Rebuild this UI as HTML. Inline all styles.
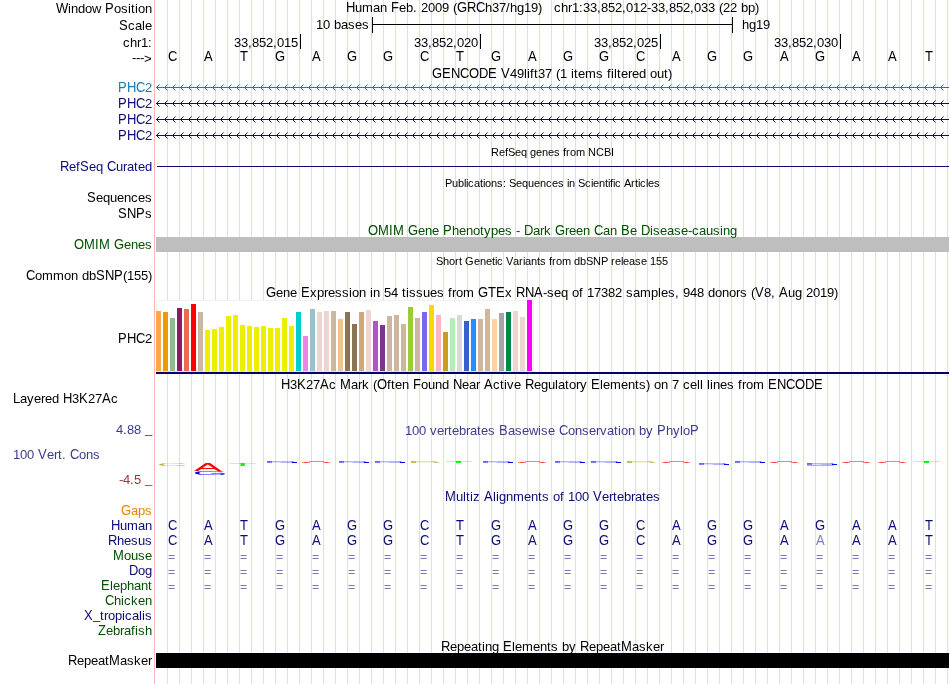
<!DOCTYPE html>
<html lang="en">
<head>
<meta charset="utf-8">
<title>UCSC Genome Browser - hg19 chr1:33,852,012-33,852,033</title>
<style>
html,body{margin:0;padding:0;background:#fff;overflow:hidden}
body{width:950px;height:684px;font-family:"Liberation Sans", Arial, Helvetica, sans-serif}
svg{display:block;position:absolute;left:0;top:0}
svg text{font-family:"Liberation Sans", Arial, Helvetica, sans-serif;white-space:pre}
svg tspan.c{font-size:14px}
</style>
</head>
<body>
<svg width="950" height="684" viewBox="0 0 950 684" shape-rendering="crispEdges">
<defs>
<pattern id="barb0" x="156" y="84" width="8" height="16" patternUnits="userSpaceOnUse"><g fill="#1f77b4"><rect x="1" y="2" width="1" height="1" opacity="1"/><rect x="1" y="4" width="1" height="1" opacity="1"/><rect x="2" y="1" width="1" height="1" opacity="1"/><rect x="2" y="5" width="1" height="1" opacity="1"/><rect x="3" y="0" width="1" height="1" opacity="0.5"/><rect x="3" y="6" width="1" height="1" opacity="0.5"/></g></pattern>
<pattern id="barb1" x="156" y="100" width="8" height="16" patternUnits="userSpaceOnUse"><g fill="#0c0c78"><rect x="1" y="2" width="1" height="1" opacity="1"/><rect x="1" y="4" width="1" height="1" opacity="1"/><rect x="2" y="1" width="1" height="1" opacity="1"/><rect x="2" y="5" width="1" height="1" opacity="1"/><rect x="3" y="0" width="1" height="1" opacity="0.5"/><rect x="3" y="6" width="1" height="1" opacity="0.5"/></g></pattern>
</defs>
<g id="graphics">
<rect x="167" y="0" width="1" height="684" fill="#dcdcff"/>
<rect x="179" y="0" width="1" height="684" fill="#dcdcff"/>
<rect x="191" y="0" width="1" height="684" fill="#dcdcff"/>
<rect x="203" y="0" width="1" height="684" fill="#dcdcff"/>
<rect x="215" y="0" width="1" height="684" fill="#dcdcff"/>
<rect x="227" y="0" width="1" height="684" fill="#dcdcff"/>
<rect x="239" y="0" width="1" height="684" fill="#dcdcff"/>
<rect x="251" y="0" width="1" height="684" fill="#dcdcff"/>
<rect x="263" y="0" width="1" height="684" fill="#dcdcff"/>
<rect x="275" y="0" width="1" height="684" fill="#dcdcff"/>
<rect x="287" y="0" width="1" height="684" fill="#dcdcff"/>
<rect x="299" y="0" width="1" height="684" fill="#dcdcff"/>
<rect x="311" y="0" width="1" height="684" fill="#dcdcff"/>
<rect x="323" y="0" width="1" height="684" fill="#dcdcff"/>
<rect x="335" y="0" width="1" height="684" fill="#dcdcff"/>
<rect x="347" y="0" width="1" height="684" fill="#dcdcff"/>
<rect x="359" y="0" width="1" height="684" fill="#dcdcff"/>
<rect x="371" y="0" width="1" height="684" fill="#dcdcff"/>
<rect x="383" y="0" width="1" height="684" fill="#dcdcff"/>
<rect x="395" y="0" width="1" height="684" fill="#dcdcff"/>
<rect x="407" y="0" width="1" height="684" fill="#dcdcff"/>
<rect x="419" y="0" width="1" height="684" fill="#dcdcff"/>
<rect x="431" y="0" width="1" height="684" fill="#dcdcff"/>
<rect x="443" y="0" width="1" height="684" fill="#dcdcff"/>
<rect x="455" y="0" width="1" height="684" fill="#dcdcff"/>
<rect x="467" y="0" width="1" height="684" fill="#dcdcff"/>
<rect x="479" y="0" width="1" height="684" fill="#dcdcff"/>
<rect x="491" y="0" width="1" height="684" fill="#dcdcff"/>
<rect x="503" y="0" width="1" height="684" fill="#dcdcff"/>
<rect x="515" y="0" width="1" height="684" fill="#dcdcff"/>
<rect x="527" y="0" width="1" height="684" fill="#dcdcff"/>
<rect x="539" y="0" width="1" height="684" fill="#dcdcff"/>
<rect x="551" y="0" width="1" height="684" fill="#dcdcff"/>
<rect x="563" y="0" width="1" height="684" fill="#dcdcff"/>
<rect x="575" y="0" width="1" height="684" fill="#dcdcff"/>
<rect x="587" y="0" width="1" height="684" fill="#dcdcff"/>
<rect x="599" y="0" width="1" height="684" fill="#dcdcff"/>
<rect x="611" y="0" width="1" height="684" fill="#dcdcff"/>
<rect x="623" y="0" width="1" height="684" fill="#dcdcff"/>
<rect x="635" y="0" width="1" height="684" fill="#dcdcff"/>
<rect x="647" y="0" width="1" height="684" fill="#dcdcff"/>
<rect x="659" y="0" width="1" height="684" fill="#dcdcff"/>
<rect x="671" y="0" width="1" height="684" fill="#dcdcff"/>
<rect x="683" y="0" width="1" height="684" fill="#dcdcff"/>
<rect x="695" y="0" width="1" height="684" fill="#dcdcff"/>
<rect x="707" y="0" width="1" height="684" fill="#dcdcff"/>
<rect x="719" y="0" width="1" height="684" fill="#dcdcff"/>
<rect x="731" y="0" width="1" height="684" fill="#dcdcff"/>
<rect x="743" y="0" width="1" height="684" fill="#dcdcff"/>
<rect x="755" y="0" width="1" height="684" fill="#dcdcff"/>
<rect x="767" y="0" width="1" height="684" fill="#dcdcff"/>
<rect x="779" y="0" width="1" height="684" fill="#dcdcff"/>
<rect x="791" y="0" width="1" height="684" fill="#dcdcff"/>
<rect x="803" y="0" width="1" height="684" fill="#dcdcff"/>
<rect x="815" y="0" width="1" height="684" fill="#dcdcff"/>
<rect x="827" y="0" width="1" height="684" fill="#dcdcff"/>
<rect x="839" y="0" width="1" height="684" fill="#dcdcff"/>
<rect x="851" y="0" width="1" height="684" fill="#dcdcff"/>
<rect x="863" y="0" width="1" height="684" fill="#dcdcff"/>
<rect x="875" y="0" width="1" height="684" fill="#dcdcff"/>
<rect x="887" y="0" width="1" height="684" fill="#dcdcff"/>
<rect x="899" y="0" width="1" height="684" fill="#dcdcff"/>
<rect x="911" y="0" width="1" height="684" fill="#dcdcff"/>
<rect x="923" y="0" width="1" height="684" fill="#dcdcff"/>
<rect x="935" y="0" width="1" height="684" fill="#dcdcff"/>
<rect x="947" y="0" width="1" height="684" fill="#dcdcff"/>
<rect x="154" y="0" width="1" height="684" fill="#ffb4b4"/>
<rect x="372" y="17" width="1" height="16" fill="#000"/>
<rect x="732" y="17" width="1" height="16" fill="#000"/>
<rect x="372" y="24" width="361" height="1" fill="#000"/>
<rect x="300" y="34" width="1" height="15" fill="#000"/>
<rect x="480" y="34" width="1" height="15" fill="#000"/>
<rect x="660" y="34" width="1" height="15" fill="#000"/>
<rect x="840" y="34" width="1" height="15" fill="#000"/>
<rect x="156" y="87" width="793" height="1" fill="#1f77b4"/>
<rect x="156" y="84" width="792" height="7" fill="url(#barb0)"/>
<rect x="156" y="103" width="793" height="1" fill="#0c0c78"/>
<rect x="156" y="100" width="792" height="7" fill="url(#barb1)"/>
<rect x="156" y="119" width="793" height="1" fill="#0c0c78"/>
<rect x="156" y="116" width="792" height="7" fill="url(#barb1)"/>
<rect x="156" y="135" width="793" height="1" fill="#0c0c78"/>
<rect x="156" y="132" width="792" height="7" fill="url(#barb1)"/>
<rect x="157" y="166" width="792" height="1" fill="#0c0c78"/>
<rect x="156" y="237" width="793" height="15" fill="#bebebe"/>
<rect x="156" y="300" width="378" height="72" fill="#f1f1f1"/>
<rect x="157" y="301" width="376" height="70" fill="#fff"/>
<rect x="156" y="371" width="378" height="1" fill="#e3e3df"/>
<rect x="156" y="311" width="5" height="60" fill="#FFA54F"/>
<rect x="163" y="312" width="5" height="59" fill="#EE9A00"/>
<rect x="170" y="318" width="5" height="53" fill="#8FBC8F"/>
<rect x="177" y="308" width="5" height="63" fill="#8B1C62"/>
<rect x="184" y="309" width="5" height="62" fill="#EE6A50"/>
<rect x="191" y="304" width="5" height="67" fill="#FF0000"/>
<rect x="198" y="312" width="5" height="59" fill="#CDB79E"/>
<rect x="205" y="330" width="5" height="41" fill="#EEEE00"/>
<rect x="212" y="329" width="5" height="42" fill="#EEEE00"/>
<rect x="219" y="327" width="5" height="44" fill="#EEEE00"/>
<rect x="226" y="316" width="5" height="55" fill="#EEEE00"/>
<rect x="233" y="315" width="5" height="56" fill="#EEEE00"/>
<rect x="240" y="325" width="5" height="46" fill="#EEEE00"/>
<rect x="247" y="326" width="5" height="45" fill="#EEEE00"/>
<rect x="254" y="327" width="5" height="44" fill="#EEEE00"/>
<rect x="261" y="326" width="5" height="45" fill="#EEEE00"/>
<rect x="268" y="328" width="5" height="43" fill="#EEEE00"/>
<rect x="275" y="328" width="5" height="43" fill="#EEEE00"/>
<rect x="282" y="318" width="5" height="53" fill="#EEEE00"/>
<rect x="289" y="326" width="5" height="45" fill="#EEEE00"/>
<rect x="296" y="312" width="5" height="59" fill="#00CDCD"/>
<rect x="303" y="336" width="5" height="35" fill="#EE82EE"/>
<rect x="310" y="309" width="5" height="62" fill="#9AC0CD"/>
<rect x="317" y="312" width="5" height="59" fill="#EED5D2"/>
<rect x="324" y="311" width="5" height="60" fill="#EED5D2"/>
<rect x="331" y="311" width="5" height="60" fill="#CDB79E"/>
<rect x="338" y="319" width="5" height="52" fill="#EEC591"/>
<rect x="345" y="312" width="5" height="59" fill="#8B7355"/>
<rect x="352" y="324" width="5" height="47" fill="#8B7355"/>
<rect x="359" y="312" width="5" height="59" fill="#CDAA7D"/>
<rect x="366" y="310" width="5" height="61" fill="#EED5D2"/>
<rect x="373" y="321" width="5" height="50" fill="#B452CD"/>
<rect x="380" y="325" width="5" height="46" fill="#7A378B"/>
<rect x="387" y="316" width="5" height="55" fill="#CDB79E"/>
<rect x="394" y="315" width="5" height="56" fill="#CDB79E"/>
<rect x="401" y="324" width="5" height="47" fill="#CDB79E"/>
<rect x="408" y="307" width="5" height="64" fill="#9ACD32"/>
<rect x="415" y="318" width="5" height="53" fill="#CDB79E"/>
<rect x="422" y="312" width="5" height="59" fill="#7A67EE"/>
<rect x="429" y="305" width="5" height="66" fill="#FFD700"/>
<rect x="436" y="315" width="5" height="56" fill="#FFB6C1"/>
<rect x="443" y="332" width="5" height="39" fill="#CD9B1D"/>
<rect x="450" y="318" width="5" height="53" fill="#B4EEB4"/>
<rect x="457" y="315" width="5" height="56" fill="#D9D9D9"/>
<rect x="464" y="321" width="5" height="50" fill="#3A5FCD"/>
<rect x="471" y="319" width="5" height="52" fill="#1E90FF"/>
<rect x="478" y="319" width="5" height="52" fill="#CDB79E"/>
<rect x="485" y="309" width="5" height="62" fill="#CDB79E"/>
<rect x="492" y="319" width="5" height="52" fill="#FFD39B"/>
<rect x="499" y="313" width="5" height="58" fill="#A6A6A6"/>
<rect x="506" y="312" width="5" height="59" fill="#008B45"/>
<rect x="513" y="311" width="5" height="60" fill="#EED5D2"/>
<rect x="520" y="317" width="5" height="54" fill="#EED5D2"/>
<rect x="527" y="300" width="5" height="71" fill="#FF00FF"/>
<rect x="156" y="372" width="793" height="2" fill="#00006e"/>
<rect x="156" y="653" width="793" height="15" fill="#000"/>
</g>
<g id="logo-px">
<rect x="267" y="461" width="26" height="1" fill="#0000ff" opacity="0.28"/>
<rect x="267" y="462" width="26" height="1" fill="#0000ff" opacity="0.12"/>
<rect x="267" y="461" width="5" height="2" fill="#0000ff" opacity="0.45"/>
<rect x="281" y="462" width="11" height="1" fill="#0000ff" opacity="0.2"/>
<rect x="291" y="461" width="3" height="1" fill="#0000ff" opacity="0.25"/>
<rect x="292" y="462" width="5" height="1" fill="#0000ff" opacity="1"/>
<rect x="309" y="461" width="15" height="1" fill="#ff0000" opacity="0.5"/>
<rect x="302" y="462" width="8" height="1" fill="#ff0000" opacity="0.45"/>
<rect x="323" y="462" width="7" height="1" fill="#ff0000" opacity="0.45"/>
<rect x="304" y="462" width="4" height="1" fill="#ff0000" opacity="0.5"/>
<rect x="325" y="462" width="3" height="1" fill="#ff0000" opacity="0.5"/>
<rect x="339" y="461" width="26" height="1" fill="#0000ff" opacity="0.28"/>
<rect x="339" y="462" width="26" height="1" fill="#0000ff" opacity="0.12"/>
<rect x="339" y="461" width="5" height="2" fill="#0000ff" opacity="0.45"/>
<rect x="353" y="462" width="11" height="1" fill="#0000ff" opacity="0.2"/>
<rect x="363" y="461" width="3" height="1" fill="#0000ff" opacity="0.25"/>
<rect x="364" y="462" width="5" height="1" fill="#0000ff" opacity="1"/>
<rect x="375" y="461" width="26" height="1" fill="#0000ff" opacity="0.28"/>
<rect x="375" y="462" width="26" height="1" fill="#0000ff" opacity="0.12"/>
<rect x="375" y="461" width="5" height="2" fill="#0000ff" opacity="0.45"/>
<rect x="389" y="462" width="11" height="1" fill="#0000ff" opacity="0.2"/>
<rect x="399" y="461" width="3" height="1" fill="#0000ff" opacity="0.25"/>
<rect x="400" y="462" width="5" height="1" fill="#0000ff" opacity="1"/>
<rect x="411" y="461" width="25" height="1" fill="#b4aa32" opacity="0.3"/>
<rect x="411" y="462" width="25" height="1" fill="#b4aa32" opacity="0.2"/>
<rect x="411" y="461" width="5" height="2" fill="#b4aa32" opacity="0.7"/>
<rect x="432" y="461" width="5" height="1" fill="#b4aa32" opacity="0.35"/>
<rect x="434" y="462" width="5" height="1" fill="#b4aa32" opacity="0.6"/>
<rect x="446" y="461" width="26" height="1" fill="#00ff00" opacity="0.3"/>
<rect x="456" y="461" width="5" height="2" fill="#00ff00" opacity="1"/>
<rect x="483" y="461" width="26" height="1" fill="#0000ff" opacity="0.28"/>
<rect x="483" y="462" width="26" height="1" fill="#0000ff" opacity="0.12"/>
<rect x="483" y="461" width="5" height="2" fill="#0000ff" opacity="0.45"/>
<rect x="497" y="462" width="11" height="1" fill="#0000ff" opacity="0.2"/>
<rect x="507" y="461" width="3" height="1" fill="#0000ff" opacity="0.25"/>
<rect x="508" y="462" width="5" height="1" fill="#0000ff" opacity="1"/>
<rect x="525" y="461" width="15" height="1" fill="#ff0000" opacity="0.5"/>
<rect x="518" y="462" width="8" height="1" fill="#ff0000" opacity="0.45"/>
<rect x="539" y="462" width="7" height="1" fill="#ff0000" opacity="0.45"/>
<rect x="520" y="462" width="4" height="1" fill="#ff0000" opacity="0.5"/>
<rect x="541" y="462" width="3" height="1" fill="#ff0000" opacity="0.5"/>
<rect x="555" y="461" width="26" height="1" fill="#0000ff" opacity="0.28"/>
<rect x="555" y="462" width="26" height="1" fill="#0000ff" opacity="0.12"/>
<rect x="555" y="461" width="5" height="2" fill="#0000ff" opacity="0.45"/>
<rect x="569" y="462" width="11" height="1" fill="#0000ff" opacity="0.2"/>
<rect x="579" y="461" width="3" height="1" fill="#0000ff" opacity="0.25"/>
<rect x="580" y="462" width="5" height="1" fill="#0000ff" opacity="1"/>
<rect x="591" y="461" width="26" height="1" fill="#0000ff" opacity="0.28"/>
<rect x="591" y="462" width="26" height="1" fill="#0000ff" opacity="0.12"/>
<rect x="591" y="461" width="5" height="2" fill="#0000ff" opacity="0.45"/>
<rect x="605" y="462" width="11" height="1" fill="#0000ff" opacity="0.2"/>
<rect x="615" y="461" width="3" height="1" fill="#0000ff" opacity="0.25"/>
<rect x="616" y="462" width="5" height="1" fill="#0000ff" opacity="1"/>
<rect x="627" y="461" width="25" height="1" fill="#b4aa32" opacity="0.3"/>
<rect x="627" y="462" width="25" height="1" fill="#b4aa32" opacity="0.2"/>
<rect x="627" y="461" width="5" height="2" fill="#b4aa32" opacity="0.7"/>
<rect x="648" y="461" width="5" height="1" fill="#b4aa32" opacity="0.35"/>
<rect x="650" y="462" width="5" height="1" fill="#b4aa32" opacity="0.6"/>
<rect x="669" y="461" width="15" height="1" fill="#ff0000" opacity="0.5"/>
<rect x="662" y="462" width="8" height="1" fill="#ff0000" opacity="0.45"/>
<rect x="683" y="462" width="7" height="1" fill="#ff0000" opacity="0.45"/>
<rect x="664" y="462" width="4" height="1" fill="#ff0000" opacity="0.5"/>
<rect x="685" y="462" width="3" height="1" fill="#ff0000" opacity="0.5"/>
<rect x="699" y="463" width="26" height="1" fill="#0000ff" opacity="0.28"/>
<rect x="699" y="464" width="26" height="1" fill="#0000ff" opacity="0.12"/>
<rect x="699" y="463" width="5" height="2" fill="#0000ff" opacity="0.45"/>
<rect x="713" y="464" width="11" height="1" fill="#0000ff" opacity="0.2"/>
<rect x="723" y="463" width="3" height="1" fill="#0000ff" opacity="0.25"/>
<rect x="724" y="464" width="5" height="1" fill="#0000ff" opacity="1"/>
<rect x="735" y="461" width="26" height="1" fill="#0000ff" opacity="0.28"/>
<rect x="735" y="462" width="26" height="1" fill="#0000ff" opacity="0.12"/>
<rect x="735" y="461" width="5" height="2" fill="#0000ff" opacity="0.45"/>
<rect x="749" y="462" width="11" height="1" fill="#0000ff" opacity="0.2"/>
<rect x="759" y="461" width="3" height="1" fill="#0000ff" opacity="0.25"/>
<rect x="760" y="462" width="5" height="1" fill="#0000ff" opacity="1"/>
<rect x="777" y="461" width="15" height="1" fill="#ff0000" opacity="0.5"/>
<rect x="770" y="462" width="8" height="1" fill="#ff0000" opacity="0.45"/>
<rect x="791" y="462" width="7" height="1" fill="#ff0000" opacity="0.45"/>
<rect x="772" y="462" width="4" height="1" fill="#ff0000" opacity="0.5"/>
<rect x="793" y="462" width="3" height="1" fill="#ff0000" opacity="0.5"/>
<rect x="807" y="463" width="26" height="1" fill="#0000ff" opacity="0.28"/>
<rect x="807" y="464" width="26" height="1" fill="#0000ff" opacity="0.12"/>
<rect x="807" y="463" width="5" height="2" fill="#0000ff" opacity="0.45"/>
<rect x="821" y="464" width="11" height="1" fill="#0000ff" opacity="0.2"/>
<rect x="831" y="463" width="3" height="1" fill="#0000ff" opacity="0.25"/>
<rect x="832" y="464" width="5" height="1" fill="#0000ff" opacity="1"/>
<rect x="849" y="461" width="15" height="1" fill="#ff0000" opacity="0.5"/>
<rect x="842" y="462" width="8" height="1" fill="#ff0000" opacity="0.45"/>
<rect x="863" y="462" width="7" height="1" fill="#ff0000" opacity="0.45"/>
<rect x="844" y="462" width="4" height="1" fill="#ff0000" opacity="0.5"/>
<rect x="865" y="462" width="3" height="1" fill="#ff0000" opacity="0.5"/>
<rect x="885" y="461" width="15" height="1" fill="#ff0000" opacity="0.5"/>
<rect x="878" y="462" width="8" height="1" fill="#ff0000" opacity="0.45"/>
<rect x="899" y="462" width="7" height="1" fill="#ff0000" opacity="0.45"/>
<rect x="880" y="462" width="4" height="1" fill="#ff0000" opacity="0.5"/>
<rect x="901" y="462" width="3" height="1" fill="#ff0000" opacity="0.5"/>
<rect x="914" y="461" width="26" height="1" fill="#00ff00" opacity="0.3"/>
<rect x="924" y="461" width="5" height="2" fill="#00ff00" opacity="1"/>
<rect x="807" y="465" width="26" height="1" fill="#ff0000" opacity="0.4"/>
</g>
<g id="logos" font-size="100">
<text transform="matrix(0.4279 0 0 0.0438 157.03 466.06)" fill="#b4aa32">C</text>
<text transform="matrix(0.4132 0 0 0.1177 194.02 471.00)" fill="#ff0000">A</text>
<text transform="matrix(0.4581 0 0 0.0407 228.67 465.80)" fill="#00ff00">T</text>
<text transform="matrix(0.4580 0 0 0.0593 192.60 474.84)" fill="#0000ff">G</text>
</g>
<g class="labels" font-size="13" fill="#000">
<text x="56 68 71 78 85 92 101 105 114 121 128 131 135 138 145" y="13"><tspan class="c" textLength="12.27" lengthAdjust="spacingAndGlyphs">W</tspan>indow <tspan class="c" textLength="8.67" lengthAdjust="spacingAndGlyphs">P</tspan>osition</text>
<text x="346 355 362 373 380 387 391 399 406 413 417 421 428 435 442 449 453 457 467 476 485 492 499 506 510 517 524 531 538 542 546 550 554 561 568 572 579 583 590 597 601 608 615 622 626 633 640 647 651 658 665 669 676 683 690 694 701 708 715 719 723 730 737 741 748 755" y="12"><tspan class="c" textLength="9.39" lengthAdjust="spacingAndGlyphs">H</tspan>uman <tspan class="c" textLength="7.94" lengthAdjust="spacingAndGlyphs">F</tspan>eb. 2009 (<tspan class="c" textLength="10.11" lengthAdjust="spacingAndGlyphs">G</tspan><tspan class="c" textLength="9.39" lengthAdjust="spacingAndGlyphs">R</tspan><tspan class="c" textLength="9.39" lengthAdjust="spacingAndGlyphs">C</tspan>h37/hg19)   chr1:33,852,012-33,852,033 (22 bp)</text>
<text x="119 128 135 142 145" y="30"><tspan class="c" textLength="8.67" lengthAdjust="spacingAndGlyphs">S</tspan>cale</text>
<text x="316 323 330 334 341 348 355 362" y="29">10 bases</text>
<text x="742 749 756 763" y="29">hg19</text>
<text x="123 130 137 141 148" y="47">chr1:</text>
<text x="234 241 248 252 259 266 273 277 284 291" y="47">33,852,015</text>
<text x="414 421 428 432 439 446 453 457 464 471" y="47">33,852,020</text>
<text x="594 601 608 612 619 626 633 637 644 651" y="47">33,852,025</text>
<text x="774 781 788 792 799 806 813 817 824 831" y="47">33,852,030</text>
<text x="132 136 140 144" y="62" dy="0 0 0 1">---&gt;</text>
<text x="168" y="61"><tspan class="c" textLength="9.39" lengthAdjust="spacingAndGlyphs">C</tspan></text>
<text x="204" y="61"><tspan class="c" textLength="8.67" lengthAdjust="spacingAndGlyphs">A</tspan></text>
<text x="240" y="61"><tspan class="c" textLength="7.94" lengthAdjust="spacingAndGlyphs">T</tspan></text>
<text x="275" y="61"><tspan class="c" textLength="10.11" lengthAdjust="spacingAndGlyphs">G</tspan></text>
<text x="312" y="61"><tspan class="c" textLength="8.67" lengthAdjust="spacingAndGlyphs">A</tspan></text>
<text x="347" y="61"><tspan class="c" textLength="10.11" lengthAdjust="spacingAndGlyphs">G</tspan></text>
<text x="383" y="61"><tspan class="c" textLength="10.11" lengthAdjust="spacingAndGlyphs">G</tspan></text>
<text x="420" y="61"><tspan class="c" textLength="9.39" lengthAdjust="spacingAndGlyphs">C</tspan></text>
<text x="456" y="61"><tspan class="c" textLength="7.94" lengthAdjust="spacingAndGlyphs">T</tspan></text>
<text x="491" y="61"><tspan class="c" textLength="10.11" lengthAdjust="spacingAndGlyphs">G</tspan></text>
<text x="528" y="61"><tspan class="c" textLength="8.67" lengthAdjust="spacingAndGlyphs">A</tspan></text>
<text x="563" y="61"><tspan class="c" textLength="10.11" lengthAdjust="spacingAndGlyphs">G</tspan></text>
<text x="599" y="61"><tspan class="c" textLength="10.11" lengthAdjust="spacingAndGlyphs">G</tspan></text>
<text x="636" y="61"><tspan class="c" textLength="9.39" lengthAdjust="spacingAndGlyphs">C</tspan></text>
<text x="672" y="61"><tspan class="c" textLength="8.67" lengthAdjust="spacingAndGlyphs">A</tspan></text>
<text x="707" y="61"><tspan class="c" textLength="10.11" lengthAdjust="spacingAndGlyphs">G</tspan></text>
<text x="743" y="61"><tspan class="c" textLength="10.11" lengthAdjust="spacingAndGlyphs">G</tspan></text>
<text x="780" y="61"><tspan class="c" textLength="8.67" lengthAdjust="spacingAndGlyphs">A</tspan></text>
<text x="815" y="61"><tspan class="c" textLength="10.11" lengthAdjust="spacingAndGlyphs">G</tspan></text>
<text x="852" y="61"><tspan class="c" textLength="8.67" lengthAdjust="spacingAndGlyphs">A</tspan></text>
<text x="888" y="61"><tspan class="c" textLength="8.67" lengthAdjust="spacingAndGlyphs">A</tspan></text>
<text x="925" y="61"><tspan class="c" textLength="7.94" lengthAdjust="spacingAndGlyphs">T</tspan></text>
<text x="432 442 451 460 469 479 488 497 501 510 517 524 527 530 534 538 545 552 556 560 567 571 574 578 585 596 603 607 611 614 617 621 628 632 639 646 650 657 664 668" y="78"><tspan class="c" textLength="10.11" lengthAdjust="spacingAndGlyphs">G</tspan><tspan class="c" textLength="8.67" lengthAdjust="spacingAndGlyphs">E</tspan><tspan class="c" textLength="9.39" lengthAdjust="spacingAndGlyphs">N</tspan><tspan class="c" textLength="9.39" lengthAdjust="spacingAndGlyphs">C</tspan><tspan class="c" textLength="10.11" lengthAdjust="spacingAndGlyphs">O</tspan><tspan class="c" textLength="9.39" lengthAdjust="spacingAndGlyphs">D</tspan><tspan class="c" textLength="8.67" lengthAdjust="spacingAndGlyphs">E</tspan> <tspan class="c" textLength="8.67" lengthAdjust="spacingAndGlyphs">V</tspan>49lift37 (1 items filtered out)</text>
<text x="118 127 136 145" y="92" fill="#1f77b4"><tspan class="c" textLength="8.67" lengthAdjust="spacingAndGlyphs">P</tspan><tspan class="c" textLength="9.39" lengthAdjust="spacingAndGlyphs">H</tspan><tspan class="c" textLength="9.39" lengthAdjust="spacingAndGlyphs">C</tspan>2</text>
<text x="118 127 136 145" y="108" fill="#0c0c78"><tspan class="c" textLength="8.67" lengthAdjust="spacingAndGlyphs">P</tspan><tspan class="c" textLength="9.39" lengthAdjust="spacingAndGlyphs">H</tspan><tspan class="c" textLength="9.39" lengthAdjust="spacingAndGlyphs">C</tspan>2</text>
<text x="118 127 136 145" y="124" fill="#0c0c78"><tspan class="c" textLength="8.67" lengthAdjust="spacingAndGlyphs">P</tspan><tspan class="c" textLength="9.39" lengthAdjust="spacingAndGlyphs">H</tspan><tspan class="c" textLength="9.39" lengthAdjust="spacingAndGlyphs">C</tspan>2</text>
<text x="118 127 136 145" y="140" fill="#0c0c78"><tspan class="c" textLength="8.67" lengthAdjust="spacingAndGlyphs">P</tspan><tspan class="c" textLength="9.39" lengthAdjust="spacingAndGlyphs">H</tspan><tspan class="c" textLength="9.39" lengthAdjust="spacingAndGlyphs">C</tspan>2</text>
<text x="491 499 505 508 515 521 527 530 536 542 548 554 560 563 566 570 576 585 588 596 604 611" y="156" font-size="11">RefSeq genes from NCBI</text>
<text x="60 69 76 80 89 96 103 107 116 123 127 134 138 145" y="171" fill="#0c0c78"><tspan class="c" textLength="9.39" lengthAdjust="spacingAndGlyphs">R</tspan>ef<tspan class="c" textLength="8.67" lengthAdjust="spacingAndGlyphs">S</tspan>eq <tspan class="c" textLength="9.39" lengthAdjust="spacingAndGlyphs">C</tspan>urated</text>
<text x="445 452 458 464 466 468 474 480 483 485 491 497 503 506 509 516 522 528 534 540 546 552 558 564 567 569 575 578 585 591 593 599 605 608 610 613 615 621 624 631 635 638 640 646 648 654" y="187" font-size="11">Publications: Sequences in Scientific Articles</text>
<text x="87 96 103 110 117 124 131 138 145" y="202"><tspan class="c" textLength="8.67" lengthAdjust="spacingAndGlyphs">S</tspan>equences</text>
<text x="118 127 136 145" y="218"><tspan class="c" textLength="8.67" lengthAdjust="spacingAndGlyphs">S</tspan><tspan class="c" textLength="9.39" lengthAdjust="spacingAndGlyphs">N</tspan><tspan class="c" textLength="8.67" lengthAdjust="spacingAndGlyphs">P</tspan>s</text>
<text x="368 378 389 393 404 408 418 425 432 439 443 452 459 466 473 480 484 491 498 505 512 516 520 524 533 540 544 551 555 565 569 576 583 590 594 603 610 617 621 630 637 641 650 653 660 667 674 681 688 692 699 706 713 720 723 730" y="235" fill="#005000"><tspan class="c" textLength="10.11" lengthAdjust="spacingAndGlyphs">O</tspan><tspan class="c" textLength="10.83" lengthAdjust="spacingAndGlyphs">M</tspan><tspan class="c" textLength="3.61" lengthAdjust="spacingAndGlyphs">I</tspan><tspan class="c" textLength="10.83" lengthAdjust="spacingAndGlyphs">M</tspan> <tspan class="c" textLength="10.11" lengthAdjust="spacingAndGlyphs">G</tspan>ene <tspan class="c" textLength="8.67" lengthAdjust="spacingAndGlyphs">P</tspan>henotypes - <tspan class="c" textLength="9.39" lengthAdjust="spacingAndGlyphs">D</tspan>ark <tspan class="c" textLength="10.11" lengthAdjust="spacingAndGlyphs">G</tspan>reen <tspan class="c" textLength="9.39" lengthAdjust="spacingAndGlyphs">C</tspan>an <tspan class="c" textLength="8.67" lengthAdjust="spacingAndGlyphs">B</tspan>e <tspan class="c" textLength="9.39" lengthAdjust="spacingAndGlyphs">D</tspan>isease-causing</text>
<text x="74 84 95 99 110 114 124 131 138 145" y="249" fill="#005000"><tspan class="c" textLength="10.11" lengthAdjust="spacingAndGlyphs">O</tspan><tspan class="c" textLength="10.83" lengthAdjust="spacingAndGlyphs">M</tspan><tspan class="c" textLength="3.61" lengthAdjust="spacingAndGlyphs">I</tspan><tspan class="c" textLength="10.83" lengthAdjust="spacingAndGlyphs">M</tspan> <tspan class="c" textLength="10.11" lengthAdjust="spacingAndGlyphs">G</tspan>enes</text>
<text x="436 443 449 455 459 462 465 474 480 486 492 495 497 503 506 513 519 523 525 531 537 540 546 549 552 556 562 571 574 580 586 593 601 608 611 615 621 623 629 635 641 647 650 656 662" y="265" font-size="11">Short Genetic Variants from dbSNP release 155</text>
<text x="26 35 42 53 64 71 78 82 89 96 105 114 123 127 134 141 148" y="280"><tspan class="c" textLength="9.39" lengthAdjust="spacingAndGlyphs">C</tspan>ommon db<tspan class="c" textLength="8.67" lengthAdjust="spacingAndGlyphs">S</tspan><tspan class="c" textLength="9.39" lengthAdjust="spacingAndGlyphs">N</tspan><tspan class="c" textLength="8.67" lengthAdjust="spacingAndGlyphs">P</tspan>(155)</text>
<text x="266 276 283 290 297 301 310 317 324 328 335 342 349 352 359 366 370 373 380 384 391 398 402 406 409 416 423 430 437 444 448 452 456 463 474 478 488 496 505 512 516 525 534 543 547 554 561 568 572 579 583 587 594 601 608 615 622 626 633 640 651 658 661 668 675 679 683 690 697 704 708 715 722 729 736 740 747 751 755 764 771 775 779 788 795 802 806 813 820 827 834" y="297"><tspan class="c" textLength="10.11" lengthAdjust="spacingAndGlyphs">G</tspan>ene <tspan class="c" textLength="8.67" lengthAdjust="spacingAndGlyphs">E</tspan>xpression in 54 tissues from <tspan class="c" textLength="10.11" lengthAdjust="spacingAndGlyphs">G</tspan><tspan class="c" textLength="7.94" lengthAdjust="spacingAndGlyphs">T</tspan><tspan class="c" textLength="8.67" lengthAdjust="spacingAndGlyphs">E</tspan>x <tspan class="c" textLength="9.39" lengthAdjust="spacingAndGlyphs">R</tspan><tspan class="c" textLength="9.39" lengthAdjust="spacingAndGlyphs">N</tspan><tspan class="c" textLength="8.67" lengthAdjust="spacingAndGlyphs">A</tspan>-seq of 17382 samples, 948 donors (<tspan class="c" textLength="8.67" lengthAdjust="spacingAndGlyphs">V</tspan>8, <tspan class="c" textLength="8.67" lengthAdjust="spacingAndGlyphs">A</tspan>ug 2019)</text>
<text x="118 127 136 145" y="343"><tspan class="c" textLength="8.67" lengthAdjust="spacingAndGlyphs">P</tspan><tspan class="c" textLength="9.39" lengthAdjust="spacingAndGlyphs">H</tspan><tspan class="c" textLength="9.39" lengthAdjust="spacingAndGlyphs">C</tspan>2</text>
<text x="281 290 297 306 313 320 329 336 340 351 358 362 369 373 377 387 391 395 402 409 413 421 428 435 442 449 453 462 469 476 480 484 493 500 504 507 514 521 525 534 541 548 555 558 565 569 576 580 587 591 600 603 610 621 628 635 639 646 650 654 661 668 672 679 683 690 697 700 703 707 710 713 720 727 734 738 742 746 753 764 768 777 786 795 805 814" y="389"><tspan class="c" textLength="9.39" lengthAdjust="spacingAndGlyphs">H</tspan>3<tspan class="c" textLength="8.67" lengthAdjust="spacingAndGlyphs">K</tspan>27<tspan class="c" textLength="8.67" lengthAdjust="spacingAndGlyphs">A</tspan>c <tspan class="c" textLength="10.83" lengthAdjust="spacingAndGlyphs">M</tspan>ark (<tspan class="c" textLength="10.11" lengthAdjust="spacingAndGlyphs">O</tspan>ften <tspan class="c" textLength="7.94" lengthAdjust="spacingAndGlyphs">F</tspan>ound <tspan class="c" textLength="9.39" lengthAdjust="spacingAndGlyphs">N</tspan>ear <tspan class="c" textLength="8.67" lengthAdjust="spacingAndGlyphs">A</tspan>ctive <tspan class="c" textLength="9.39" lengthAdjust="spacingAndGlyphs">R</tspan>egulatory <tspan class="c" textLength="8.67" lengthAdjust="spacingAndGlyphs">E</tspan>lements) on 7 cell lines from <tspan class="c" textLength="8.67" lengthAdjust="spacingAndGlyphs">E</tspan><tspan class="c" textLength="9.39" lengthAdjust="spacingAndGlyphs">N</tspan><tspan class="c" textLength="9.39" lengthAdjust="spacingAndGlyphs">C</tspan><tspan class="c" textLength="10.11" lengthAdjust="spacingAndGlyphs">O</tspan><tspan class="c" textLength="9.39" lengthAdjust="spacingAndGlyphs">D</tspan><tspan class="c" textLength="8.67" lengthAdjust="spacingAndGlyphs">E</tspan></text>
<text x="13 20 27 34 41 45 52 59 63 72 79 88 95 102 111" y="403"><tspan class="c" textLength="7.23" lengthAdjust="spacingAndGlyphs">L</tspan>ayered <tspan class="c" textLength="9.39" lengthAdjust="spacingAndGlyphs">H</tspan>3<tspan class="c" textLength="8.67" lengthAdjust="spacingAndGlyphs">K</tspan>27<tspan class="c" textLength="8.67" lengthAdjust="spacingAndGlyphs">A</tspan>c</text>
<text x="405 412 419 426 430 437 444 448 452 459 466 470 477 481 488 495 499 508 515 522 529 538 541 548 555 559 568 575 582 589 596 600 607 614 618 621 628 635 639 646 653 657 666 673 680 683 690" y="435" fill="#3c3c8c">100 vertebrates <tspan class="c" textLength="8.67" lengthAdjust="spacingAndGlyphs">B</tspan>asewise <tspan class="c" textLength="9.39" lengthAdjust="spacingAndGlyphs">C</tspan>onservation by <tspan class="c" textLength="8.67" lengthAdjust="spacingAndGlyphs">P</tspan>hylo<tspan class="c" textLength="8.67" lengthAdjust="spacingAndGlyphs">P</tspan></text>
<text x="116 123 127 134 141 145" y="434" dy="0 0 0 0 0 -1" fill="#3c3c8c">4.88 _</text>
<text x="13 20 27 34 38 47 54 58 62 66 70 79 86 93" y="459" fill="#3c3c8c">100 <tspan class="c" textLength="8.67" lengthAdjust="spacingAndGlyphs">V</tspan>ert. <tspan class="c" textLength="9.39" lengthAdjust="spacingAndGlyphs">C</tspan>ons</text>
<text x="119 123 130 134 141 145" y="484" dy="0 0 0 0 0 -1" fill="#8c3c3c">-4.5 _</text>
<text x="445 456 463 466 470 473 480 484 493 496 499 506 513 524 531 538 542 549 553 560 564 568 575 582 589 593 602 609 613 617 624 631 635 642 646 653" y="501" fill="#0c0c78"><tspan class="c" textLength="10.83" lengthAdjust="spacingAndGlyphs">M</tspan>ultiz <tspan class="c" textLength="8.67" lengthAdjust="spacingAndGlyphs">A</tspan>lignments of 100 <tspan class="c" textLength="8.67" lengthAdjust="spacingAndGlyphs">V</tspan>ertebrates</text>
<text x="121 131 138 145" y="515" fill="#e88500"><tspan class="c" textLength="10.11" lengthAdjust="spacingAndGlyphs">G</tspan>aps</text>
<text x="111 120 127 138 145" y="530" fill="#0c0c78"><tspan class="c" textLength="9.39" lengthAdjust="spacingAndGlyphs">H</tspan>uman</text>
<text x="168" y="530" fill="#0c0c78"><tspan class="c" textLength="9.39" lengthAdjust="spacingAndGlyphs">C</tspan></text>
<text x="204" y="530" fill="#0c0c78"><tspan class="c" textLength="8.67" lengthAdjust="spacingAndGlyphs">A</tspan></text>
<text x="240" y="530" fill="#0c0c78"><tspan class="c" textLength="7.94" lengthAdjust="spacingAndGlyphs">T</tspan></text>
<text x="275" y="530" fill="#0c0c78"><tspan class="c" textLength="10.11" lengthAdjust="spacingAndGlyphs">G</tspan></text>
<text x="312" y="530" fill="#0c0c78"><tspan class="c" textLength="8.67" lengthAdjust="spacingAndGlyphs">A</tspan></text>
<text x="347" y="530" fill="#0c0c78"><tspan class="c" textLength="10.11" lengthAdjust="spacingAndGlyphs">G</tspan></text>
<text x="383" y="530" fill="#0c0c78"><tspan class="c" textLength="10.11" lengthAdjust="spacingAndGlyphs">G</tspan></text>
<text x="420" y="530" fill="#0c0c78"><tspan class="c" textLength="9.39" lengthAdjust="spacingAndGlyphs">C</tspan></text>
<text x="456" y="530" fill="#0c0c78"><tspan class="c" textLength="7.94" lengthAdjust="spacingAndGlyphs">T</tspan></text>
<text x="491" y="530" fill="#0c0c78"><tspan class="c" textLength="10.11" lengthAdjust="spacingAndGlyphs">G</tspan></text>
<text x="528" y="530" fill="#0c0c78"><tspan class="c" textLength="8.67" lengthAdjust="spacingAndGlyphs">A</tspan></text>
<text x="563" y="530" fill="#0c0c78"><tspan class="c" textLength="10.11" lengthAdjust="spacingAndGlyphs">G</tspan></text>
<text x="599" y="530" fill="#0c0c78"><tspan class="c" textLength="10.11" lengthAdjust="spacingAndGlyphs">G</tspan></text>
<text x="636" y="530" fill="#0c0c78"><tspan class="c" textLength="9.39" lengthAdjust="spacingAndGlyphs">C</tspan></text>
<text x="672" y="530" fill="#0c0c78"><tspan class="c" textLength="8.67" lengthAdjust="spacingAndGlyphs">A</tspan></text>
<text x="707" y="530" fill="#0c0c78"><tspan class="c" textLength="10.11" lengthAdjust="spacingAndGlyphs">G</tspan></text>
<text x="743" y="530" fill="#0c0c78"><tspan class="c" textLength="10.11" lengthAdjust="spacingAndGlyphs">G</tspan></text>
<text x="780" y="530" fill="#0c0c78"><tspan class="c" textLength="8.67" lengthAdjust="spacingAndGlyphs">A</tspan></text>
<text x="815" y="530" fill="#0c0c78"><tspan class="c" textLength="10.11" lengthAdjust="spacingAndGlyphs">G</tspan></text>
<text x="852" y="530" fill="#0c0c78"><tspan class="c" textLength="8.67" lengthAdjust="spacingAndGlyphs">A</tspan></text>
<text x="888" y="530" fill="#0c0c78"><tspan class="c" textLength="8.67" lengthAdjust="spacingAndGlyphs">A</tspan></text>
<text x="925" y="530" fill="#0c0c78"><tspan class="c" textLength="7.94" lengthAdjust="spacingAndGlyphs">T</tspan></text>
<text x="108 117 124 131 138 145" y="545" fill="#0c0c78"><tspan class="c" textLength="9.39" lengthAdjust="spacingAndGlyphs">R</tspan>hesus</text>
<text x="168" y="545" fill="#0c0c78"><tspan class="c" textLength="9.39" lengthAdjust="spacingAndGlyphs">C</tspan></text>
<text x="204" y="545" fill="#0c0c78"><tspan class="c" textLength="8.67" lengthAdjust="spacingAndGlyphs">A</tspan></text>
<text x="240" y="545" fill="#0c0c78"><tspan class="c" textLength="7.94" lengthAdjust="spacingAndGlyphs">T</tspan></text>
<text x="275" y="545" fill="#0c0c78"><tspan class="c" textLength="10.11" lengthAdjust="spacingAndGlyphs">G</tspan></text>
<text x="312" y="545" fill="#0c0c78"><tspan class="c" textLength="8.67" lengthAdjust="spacingAndGlyphs">A</tspan></text>
<text x="347" y="545" fill="#0c0c78"><tspan class="c" textLength="10.11" lengthAdjust="spacingAndGlyphs">G</tspan></text>
<text x="383" y="545" fill="#0c0c78"><tspan class="c" textLength="10.11" lengthAdjust="spacingAndGlyphs">G</tspan></text>
<text x="420" y="545" fill="#0c0c78"><tspan class="c" textLength="9.39" lengthAdjust="spacingAndGlyphs">C</tspan></text>
<text x="456" y="545" fill="#0c0c78"><tspan class="c" textLength="7.94" lengthAdjust="spacingAndGlyphs">T</tspan></text>
<text x="491" y="545" fill="#0c0c78"><tspan class="c" textLength="10.11" lengthAdjust="spacingAndGlyphs">G</tspan></text>
<text x="528" y="545" fill="#0c0c78"><tspan class="c" textLength="8.67" lengthAdjust="spacingAndGlyphs">A</tspan></text>
<text x="563" y="545" fill="#0c0c78"><tspan class="c" textLength="10.11" lengthAdjust="spacingAndGlyphs">G</tspan></text>
<text x="599" y="545" fill="#0c0c78"><tspan class="c" textLength="10.11" lengthAdjust="spacingAndGlyphs">G</tspan></text>
<text x="636" y="545" fill="#0c0c78"><tspan class="c" textLength="9.39" lengthAdjust="spacingAndGlyphs">C</tspan></text>
<text x="672" y="545" fill="#0c0c78"><tspan class="c" textLength="8.67" lengthAdjust="spacingAndGlyphs">A</tspan></text>
<text x="707" y="545" fill="#0c0c78"><tspan class="c" textLength="10.11" lengthAdjust="spacingAndGlyphs">G</tspan></text>
<text x="743" y="545" fill="#0c0c78"><tspan class="c" textLength="10.11" lengthAdjust="spacingAndGlyphs">G</tspan></text>
<text x="780" y="545" fill="#0c0c78"><tspan class="c" textLength="8.67" lengthAdjust="spacingAndGlyphs">A</tspan></text>
<text x="816" y="545" fill="#7c7cb2"><tspan class="c" textLength="8.67" lengthAdjust="spacingAndGlyphs">A</tspan></text>
<text x="852" y="545" fill="#0c0c78"><tspan class="c" textLength="8.67" lengthAdjust="spacingAndGlyphs">A</tspan></text>
<text x="888" y="545" fill="#0c0c78"><tspan class="c" textLength="8.67" lengthAdjust="spacingAndGlyphs">A</tspan></text>
<text x="925" y="545" fill="#0c0c78"><tspan class="c" textLength="7.94" lengthAdjust="spacingAndGlyphs">T</tspan></text>
<text x="113 124 131 138 145" y="560" fill="#005000"><tspan class="c" textLength="10.83" lengthAdjust="spacingAndGlyphs">M</tspan>ouse</text>
<text x="129 138 145" y="575" fill="#0c0c78"><tspan class="c" textLength="9.39" lengthAdjust="spacingAndGlyphs">D</tspan>og</text>
<text x="101 110 113 120 127 134 141 148" y="590" fill="#005000"><tspan class="c" textLength="8.67" lengthAdjust="spacingAndGlyphs">E</tspan>lephant</text>
<text x="105 114 121 124 131 138 145" y="605" fill="#005000"><tspan class="c" textLength="9.39" lengthAdjust="spacingAndGlyphs">C</tspan>hicken</text>
<text x="84 93 100 104 108 115 122 125 132 139 142 145" y="620" dy="0 -1 1 0 0 0 0 0 0 0 0 0" fill="#0c0c78"><tspan class="c" textLength="8.67" lengthAdjust="spacingAndGlyphs">X</tspan>_tropicalis</text>
<text x="98 106 113 120 124 131 135 138 145" y="635" fill="#005000"><tspan class="c" textLength="7.94" lengthAdjust="spacingAndGlyphs">Z</tspan>ebrafish</text>
<text x="441 450 457 464 471 478 482 485 492 499 503 512 515 522 533 540 547 551 558 562 569 576 580 589 596 603 610 617 621 632 639 646 653 660" y="651"><tspan class="c" textLength="9.39" lengthAdjust="spacingAndGlyphs">R</tspan>epeating <tspan class="c" textLength="8.67" lengthAdjust="spacingAndGlyphs">E</tspan>lements by <tspan class="c" textLength="9.39" lengthAdjust="spacingAndGlyphs">R</tspan>epeat<tspan class="c" textLength="10.83" lengthAdjust="spacingAndGlyphs">M</tspan>asker</text>
<text x="68 77 84 91 98 105 109 120 127 134 141 148" y="665"><tspan class="c" textLength="9.39" lengthAdjust="spacingAndGlyphs">R</tspan>epeat<tspan class="c" textLength="10.83" lengthAdjust="spacingAndGlyphs">M</tspan>asker</text>
</g>

<g id="eq" font-size="12.4">
<text x="168.1" y="561.08" fill="#7878ac">=</text>
<text x="204.1" y="561.08" fill="#7878ac">=</text>
<text x="240.1" y="561.08" fill="#7878ac">=</text>
<text x="276.1" y="561.08" fill="#7878ac">=</text>
<text x="312.1" y="561.08" fill="#7878ac">=</text>
<text x="348.1" y="561.08" fill="#7878ac">=</text>
<text x="384.1" y="561.08" fill="#7878ac">=</text>
<text x="420.1" y="561.08" fill="#7878ac">=</text>
<text x="456.1" y="561.08" fill="#7878ac">=</text>
<text x="492.1" y="561.08" fill="#7878ac">=</text>
<text x="528.1" y="561.08" fill="#7878ac">=</text>
<text x="564.1" y="561.08" fill="#7878ac">=</text>
<text x="600.1" y="561.08" fill="#7878ac">=</text>
<text x="636.1" y="561.08" fill="#7878ac">=</text>
<text x="672.1" y="561.08" fill="#7878ac">=</text>
<text x="708.1" y="561.08" fill="#7878ac">=</text>
<text x="744.1" y="561.08" fill="#7878ac">=</text>
<text x="780.1" y="561.08" fill="#7878ac">=</text>
<text x="816.1" y="561.08" fill="#7878ac">=</text>
<text x="852.1" y="561.08" fill="#7878ac">=</text>
<text x="888.1" y="561.08" fill="#7878ac">=</text>
<text x="925.1" y="561.08" fill="#7878ac">=</text>
<text x="168.1" y="576.08" fill="#7878ac">=</text>
<text x="204.1" y="576.08" fill="#7878ac">=</text>
<text x="240.1" y="576.08" fill="#7878ac">=</text>
<text x="276.1" y="576.08" fill="#7878ac">=</text>
<text x="312.1" y="576.08" fill="#7878ac">=</text>
<text x="348.1" y="576.08" fill="#7878ac">=</text>
<text x="384.1" y="576.08" fill="#7878ac">=</text>
<text x="420.1" y="576.08" fill="#7878ac">=</text>
<text x="456.1" y="576.08" fill="#7878ac">=</text>
<text x="492.1" y="576.08" fill="#7878ac">=</text>
<text x="528.1" y="576.08" fill="#7878ac">=</text>
<text x="564.1" y="576.08" fill="#7878ac">=</text>
<text x="600.1" y="576.08" fill="#7878ac">=</text>
<text x="636.1" y="576.08" fill="#7878ac">=</text>
<text x="672.1" y="576.08" fill="#7878ac">=</text>
<text x="708.1" y="576.08" fill="#7878ac">=</text>
<text x="744.1" y="576.08" fill="#7878ac">=</text>
<text x="780.1" y="576.08" fill="#7878ac">=</text>
<text x="816.1" y="576.08" fill="#7878ac">=</text>
<text x="852.1" y="576.08" fill="#7878ac">=</text>
<text x="888.1" y="576.08" fill="#7878ac">=</text>
<text x="925.1" y="576.08" fill="#7878ac">=</text>
<text x="168.1" y="591.08" fill="#7878ac">=</text>
<text x="204.1" y="591.08" fill="#7878ac">=</text>
<text x="240.1" y="591.08" fill="#7878ac">=</text>
<text x="276.1" y="591.08" fill="#7878ac">=</text>
<text x="312.1" y="591.08" fill="#7878ac">=</text>
<text x="348.1" y="591.08" fill="#7878ac">=</text>
<text x="384.1" y="591.08" fill="#7878ac">=</text>
<text x="420.1" y="591.08" fill="#7878ac">=</text>
<text x="456.1" y="591.08" fill="#7878ac">=</text>
<text x="492.1" y="591.08" fill="#7878ac">=</text>
<text x="528.1" y="591.08" fill="#7878ac">=</text>
<text x="564.1" y="591.08" fill="#7878ac">=</text>
<text x="600.1" y="591.08" fill="#7878ac">=</text>
<text x="636.1" y="591.08" fill="#7878ac">=</text>
<text x="672.1" y="591.08" fill="#7878ac">=</text>
<text x="708.1" y="591.08" fill="#7878ac">=</text>
<text x="744.1" y="591.08" fill="#7878ac">=</text>
<text x="780.1" y="591.08" fill="#7878ac">=</text>
<text x="816.1" y="591.08" fill="#7878ac">=</text>
<text x="852.1" y="591.08" fill="#7878ac">=</text>
<text x="888.1" y="591.08" fill="#7878ac">=</text>
<text x="925.1" y="591.08" fill="#7878ac">=</text>
</g>
</svg>
</body>
</html>
